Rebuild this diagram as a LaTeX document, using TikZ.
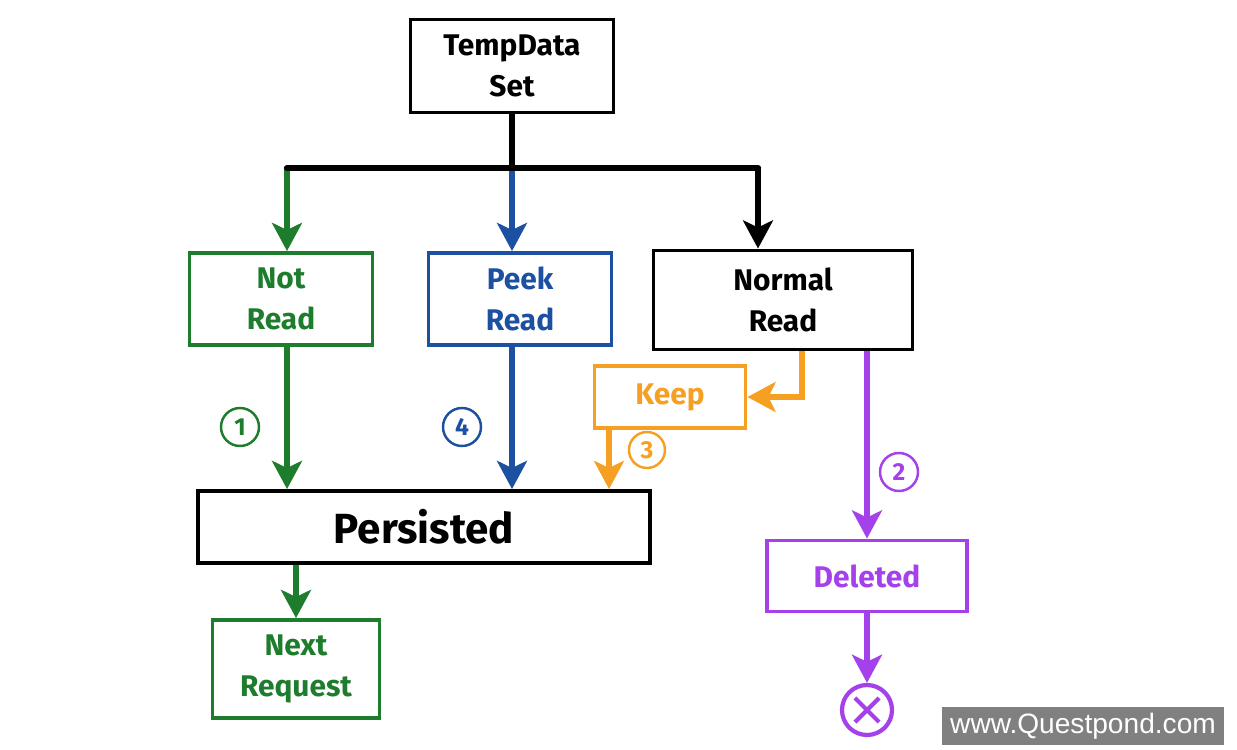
\documentclass[tikz,border=0pt]{standalone}
\usepackage{fontspec}
\setmainfont{Fira Sans}
\newfontfamily\wmfont{Liberation Sans}
\usetikzlibrary{arrows.meta,shapes.misc}
\definecolor{tdgreen}{RGB}{30,125,45}
\definecolor{tdblue}{RGB}{28,80,160}
\definecolor{tdorange}{RGB}{245,160,35}
\definecolor{tdpurple}{RGB}{165,65,235}
\begin{document}
\begin{tikzpicture}[x=0.02cm,y=-0.02cm]
        \tikzstyle{every node}=[font=\bfseries\fontsize{17}{23}\selectfont,align=center,inner sep=0pt];
        \tikzstyle{box}=[draw,line width=2.2pt];
        \tikzstyle{flow}=[line width=3pt,-{Stealth[length=16pt,width=17pt,inset=4pt]}];
        \tikzstyle{stepnum}=[draw,circle,line width=1.4pt,minimum size=38*0.02cm,font=\bfseries\fontsize{14}{16}\selectfont];
        \useasboundingbox (0,0) rectangle (1237,750);
        %boxes
        \node[box,minimum width=203*0.02cm,minimum height=93*0.02cm] (tds) at (512,66) {TempData\\Set};
        \node[box,tdgreen,minimum width=183*0.02cm,minimum height=92*0.02cm] (nrd) at (281,299) {Not\\Read};
        \node[box,tdblue,minimum width=183*0.02cm,minimum height=92*0.02cm] (pkr) at (520,299) {Peek\\Read};
        \node[box,minimum width=259*0.02cm,minimum height=99*0.02cm] (nmr) at (783,300) {Normal\\Read};
        \node[box,tdorange,minimum width=151*0.02cm,minimum height=62*0.02cm] (keep) at (670,397) {Keep};
        \node[box,minimum width=452*0.02cm,minimum height=72*0.02cm,font=\bfseries\fontsize{24}{28}\selectfont] (pers) at (424,527) {Persisted};
        \node[box,tdpurple,minimum width=200*0.02cm,minimum height=71*0.02cm] (del) at (867,576) {Deleted};
        \node[box,tdgreen,minimum width=167*0.02cm,minimum height=98*0.02cm] (next) at (296,669) {Next\\Request};
        \node[draw,circle,tdpurple,line width=2.4pt,minimum size=50*0.02cm] (gone) at (867,710) {};
        \node[draw,cross out,tdpurple,line width=2.4pt,minimum size=20*0.02cm] at (gone) {};
        %numbers
        \node[stepnum,tdgreen] (s1) at (240,427) {1};
        \node[stepnum,tdblue] (s4) at (462,427) {4};
        \node[stepnum,tdorange,minimum size=36*0.02cm] (s3) at (647,450) {3};
        \node[stepnum,tdpurple] (s2) at (899,472) {2};
        %fork
        \coordinate (fork) at (512,168);
        \coordinate (forkL) at (287,168);
        \coordinate (forkR) at (758,168);
        \coordinate (kp) at (802,0);
        \coordinate (kd) at (609,0);
        \draw[flow,tdgreen] (forkL) -- (forkL |- nrd.north);
        \draw[flow,tdblue] (fork) -- (fork |- pkr.north);
        \draw[flow] (forkR) -- (forkR |- nmr.north);
        \draw[line width=3.6pt,line cap=round] (tds.south) -- (fork)
        (forkL) -- (forkR);
        %reads
        \draw[flow,tdgreen] (nrd.south -| forkL) -- (pers.north -| forkL);
        \draw[flow,tdblue] (pkr.south -| fork) -- (pers.north -| fork);
        \draw[flow,tdorange] (nmr.south -| kp) |- (keep.east);
        \draw[flow,tdorange] (keep.south -| kd) -- (pers.north -| kd);
        \draw[flow,tdpurple] (nmr.south -| del.north) -- (del.north);
        \draw[flow,tdpurple] (del.south) -- (gone.north);
        \draw[flow,tdgreen] (pers.south -| next.north) -- (next.north);
        %watermark
        \node[fill=black!50,text=white,minimum width=282*0.02cm,minimum height=38*0.02cm,font=\wmfont\fontsize{16}{18}\selectfont] (wm) at (1083,726) {www.Questpond.com};
    \end{tikzpicture}
\end{document}
